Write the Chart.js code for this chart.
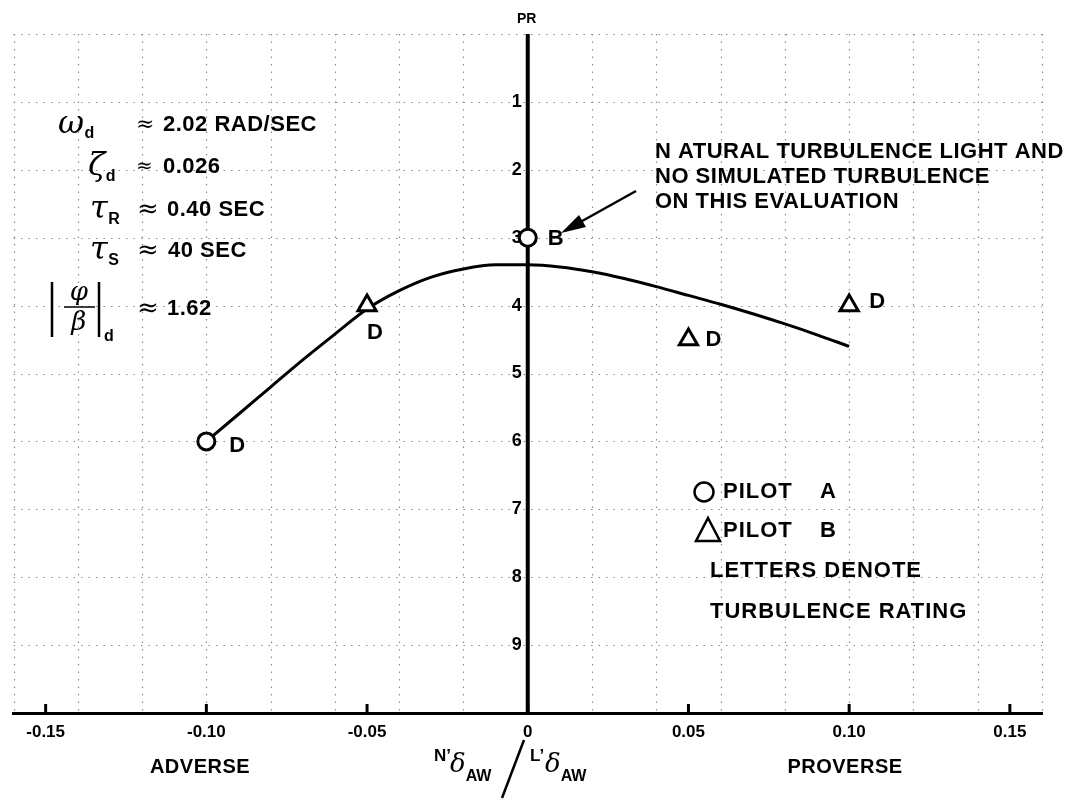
<!DOCTYPE html>
<html>
<head>
<meta charset="utf-8">
<script src="https://cdn.jsdelivr.net/npm/chart.js@4.4.0/dist/chart.umd.min.js"></script>
<style>
  body { margin: 0; background: #fff; }
  canvas { display: block; }
</style>
</head>
<body>
<canvas id="plot" width="1081" height="800"></canvas>
<script>
// faired curve through the ratings
const curveX  = [-0.10, -0.09, -0.08, -0.07, -0.06, -0.05, -0.04, -0.03, -0.02, -0.01, 0.00, 0.01, 0.02, 0.03, 0.04, 0.05, 0.06, 0.07, 0.08, 0.09, 0.10];
const curvePR = [6.00, 5.60, 5.20, 4.80, 4.42, 4.05, 3.78, 3.58, 3.46, 3.40, 3.40, 3.43, 3.50, 3.60, 3.72, 3.85, 3.98, 4.12, 4.27, 4.43, 4.60];

// pilot A (circles)
const pilotAX = [-0.10, 0.00];
const pilotAPR = [6, 3];
const pilotALetters = ['D', 'B'];

// pilot B (triangles)
const pilotBX = [-0.05, 0.05, 0.10];
const pilotBPR = [4, 4.5, 4];
const pilotBLetters = ['D', 'D', 'D'];

const xTicks = [-0.15, -0.10, -0.05, 0, 0.05, 0.10, 0.15];
const xTickLabels = ['-0.15', '-0.10', '-0.05', '0', '0.05', '0.10', '0.15'];
const prTicks = [1, 2, 3, 4, 5, 6, 7, 8, 9];
const gridX = [-0.16, -0.14, -0.12, -0.10, -0.08, -0.06, -0.04, -0.02, 0.02, 0.04, 0.06, 0.08, 0.10, 0.12, 0.14, 0.16];
const gridPR = [0, 1, 2, 3, 4, 5, 6, 7, 8, 9];

// where the rating letters sit relative to their symbol
const letterOffA = [[30, 5], [27, 1]];
const letterOffB = [[7, 27], [24, 0], [27, -4]];

const SANS = '"Liberation Sans", Arial, sans-serif';
const SERIF = '"DejaVu Serif", "Liberation Serif", serif';

function toPts(xs, ys) {
  return xs.map((x, i) => ({x: x, y: ys[i]}));
}

// draws a row of text pieces with their own fonts and vertical shifts
function runs(ctx, x, y, parts) {
  ctx.textBaseline = 'middle';
  ctx.textAlign = 'left';
  parts.forEach(p => {
    ctx.font = p.f;
    let px = p.x !== undefined ? p.x : x;
    ctx.fillText(p.t, px, y + (p.dy || 0));
    x = px + ctx.measureText(p.t).width + (p.gap || 0);
  });
}

const decor = {
  id: 'decor',
  beforeDatasetsDraw(chart) {
    const ctx = chart.ctx;
    const xs = chart.scales.x, ys = chart.scales.y;
    const top = ys.getPixelForValue(0), bot = ys.getPixelForValue(10);
    const left = xs.getPixelForValue(-0.16), right = xs.getPixelForValue(0.16);
    ctx.save();
    // dotted grid
    ctx.strokeStyle = '#8c8c8c';
    ctx.lineWidth = 1.2;
    ctx.setLineDash([1.5, 6]);
    gridX.forEach(v => {
      const px = Math.round(xs.getPixelForValue(v)) + 0.5;
      ctx.beginPath(); ctx.moveTo(px, top); ctx.lineTo(px, bot); ctx.stroke();
    });
    gridPR.forEach(v => {
      const py = Math.round(ys.getPixelForValue(v)) + 0.5;
      ctx.beginPath(); ctx.moveTo(left, py); ctx.lineTo(right, py); ctx.stroke();
    });
    ctx.setLineDash([]);
    // PR axis at zero
    const x0 = xs.getPixelForValue(0);
    ctx.strokeStyle = '#000';
    ctx.lineWidth = 4;
    ctx.beginPath(); ctx.moveTo(x0, top); ctx.lineTo(x0, bot); ctx.stroke();
    // small tick marks on the bottom axis
    ctx.lineWidth = 3;
    xTicks.forEach(v => {
      const px = xs.getPixelForValue(v);
      ctx.beginPath(); ctx.moveTo(px, bot); ctx.lineTo(px, bot - 9); ctx.stroke();
    });
    // PR tick labels
    ctx.fillStyle = '#000';
    ctx.font = 'bold 18px ' + SANS;
    ctx.textAlign = 'right';
    ctx.textBaseline = 'middle';
    prTicks.forEach(v => {
      ctx.fillText(String(v), x0 - 6, ys.getPixelForValue(v));
    });
    ctx.font = 'bold 14px ' + SANS;
    ctx.textAlign = 'center';
    ctx.fillText('PR', x0 - 1, top - 15);
    ctx.restore();
  },
  afterDatasetsDraw(chart) {
    const ctx = chart.ctx;
    ctx.save();
    ctx.fillStyle = '#000';
    ctx.font = 'bold 22px ' + SANS;
    ctx.textAlign = 'left';
    ctx.textBaseline = 'middle';
    [[0, pilotALetters, letterOffA], [1, pilotBLetters, letterOffB]].forEach(([di, letters, offs]) => {
      chart.getDatasetMeta(di).data.forEach((el, i) => {
        ctx.fillText(letters[i], el.x + offs[i][0] - 7, el.y + offs[i][1]);
      });
    });

    // parameter block
    ctx.letterSpacing = '0.5px';
    const big = 'bold 22px ' + SANS;
    const sub = 'bold 16px ' + SANS;
    const greek = 'italic 32px ' + SERIF;
    runs(ctx, 58, 125, [
      {t: '\u03C9', f: greek},
      {t: 'd', f: sub, dy: 9},
      {t: '\u2248', f: '22px ' + SERIF, x: 136},
      {t: '2.02 RAD/SEC', f: big, x: 163}
    ]);
    runs(ctx, 88, 167, [
      {t: '\u03B6', f: greek},
      {t: 'd', f: sub, dy: 10},
      {t: '\u2248', f: '20px ' + SERIF, x: 136},
      {t: '0.026', f: big, x: 163}
    ]);
    runs(ctx, 90, 210, [
      {t: '\u03C4', f: greek},
      {t: 'R', f: sub, dy: 10},
      {t: '\u2248', f: '26px ' + SERIF, x: 137},
      {t: '0.40 SEC', f: big, x: 167}
    ]);
    runs(ctx, 90, 251, [
      {t: '\u03C4', f: greek},
      {t: 'S', f: sub, dy: 10},
      {t: '\u2248', f: '26px ' + SERIF, x: 137},
      {t: '40 SEC', f: big, x: 168}
    ]);
    // |phi / beta|_d
    ctx.strokeStyle = '#000';
    ctx.lineWidth = 2.5;
    ctx.beginPath();
    ctx.moveTo(52, 282); ctx.lineTo(52, 337);
    ctx.moveTo(99, 282); ctx.lineTo(99, 337);
    ctx.stroke();
    ctx.lineWidth = 1.5;
    ctx.beginPath(); ctx.moveTo(64, 307); ctx.lineTo(95, 307); ctx.stroke();
    ctx.textAlign = 'center';
    ctx.font = 'italic 26px ' + SERIF;
    ctx.fillText('\u03C6', 79, 293);
    ctx.fillText('\u03B2', 79, 323);
    runs(ctx, 104, 337, [{t: 'd', f: sub}]);
    runs(ctx, 137, 309, [
      {t: '\u2248', f: '26px ' + SERIF},
      {t: '1.62', f: big, x: 167}
    ]);

    // note about the natural turbulence
    ctx.font = 'bold 22px ' + SANS;
    ctx.textAlign = 'left';
    ['N ATURAL TURBULENCE LIGHT AND', 'NO SIMULATED TURBULENCE', 'ON THIS EVALUATION'].forEach((s, i) => {
      ctx.fillText(s, 655, 152 + i * 25);
    });
    ctx.lineWidth = 2.5;
    ctx.beginPath(); ctx.moveTo(636, 191); ctx.lineTo(575, 225); ctx.stroke();
    ctx.beginPath();
    ctx.moveTo(561, 233); ctx.lineTo(579, 215); ctx.lineTo(586, 227); ctx.closePath();
    ctx.fill();

    // key
    ctx.lineWidth = 2.5;
    ctx.beginPath(); ctx.arc(704, 492, 9.5, 0, Math.PI * 2); ctx.stroke();
    ctx.beginPath(); ctx.moveTo(708, 518); ctx.lineTo(720, 541); ctx.lineTo(696, 541); ctx.closePath(); ctx.stroke();
    ctx.letterSpacing = '1px';
    ctx.font = 'bold 22px ' + SANS;
    ctx.fillText('PILOT', 723, 492);
    ctx.fillText('A', 820, 492);
    ctx.fillText('PILOT', 723, 531);
    ctx.fillText('B', 820, 531);
    ctx.fillText('LETTERS DENOTE', 710, 571);
    ctx.fillText('TURBULENCE RATING', 710, 612);

    // axis captions under the scale
    ctx.letterSpacing = '0.5px';
    ctx.textAlign = 'center';
    ctx.font = 'bold 20px ' + SANS;
    ctx.fillText('ADVERSE', 200, 767);
    ctx.fillText('PROVERSE', 845, 767);
    ctx.letterSpacing = '0px';
    runs(ctx, 434, 756, [
      {t: 'N\u2019', f: 'bold 17px ' + SANS},
      {t: '\u03B4', f: 'italic 26px ' + SERIF, dy: 9, x: 450},
      {t: 'AW', f: 'bold 16px ' + SANS, dy: 21}
    ]);
    ctx.lineWidth = 2.5;
    ctx.beginPath(); ctx.moveTo(524, 740); ctx.lineTo(502, 798); ctx.stroke();
    runs(ctx, 530, 756, [
      {t: 'L\u2019', f: 'bold 17px ' + SANS},
      {t: '\u03B4', f: 'italic 26px ' + SERIF, dy: 9, x: 545},
      {t: 'AW', f: 'bold 16px ' + SANS, dy: 21}
    ]);
    ctx.restore();
  }
};

const data = {
  datasets: [
    {
      label: 'Pilot A',
      data: toPts(pilotAX, pilotAPR),
      showLine: false,
      pointStyle: 'circle',
      pointRadius: 8.5,
      pointBorderWidth: 3,
      pointBackgroundColor: '#fff',
      pointBorderColor: '#000',
      order: 1
    },
    {
      label: 'Pilot B',
      data: toPts(pilotBX, pilotBPR),
      showLine: false,
      pointStyle: 'triangle',
      pointRadius: 10.5,
      pointBorderWidth: 3,
      pointBackgroundColor: '#fff',
      pointBorderColor: '#000',
      order: 1
    },
    {
      label: 'Fairing',
      data: toPts(curveX, curvePR),
      showLine: true,
      borderColor: '#000',
      borderWidth: 3,
      pointRadius: 0,
      cubicInterpolationMode: 'monotone',
      order: 2
    }
  ]
};

const config = {
  type: 'scatter',
  data: data,
  options: {
    responsive: false,
    animation: false,
    devicePixelRatio: 1,
    layout: { padding: { left: 11, right: 39, top: 34, bottom: 51 } },
    plugins: { legend: { display: false }, tooltip: { enabled: false } },
    scales: {
      x: {
        type: 'linear',
        min: -0.16,
        max: 0.16,
        afterBuildTicks: (scale) => { scale.ticks = xTicks.map(v => ({value: v})); },
        afterFit: (scale) => { scale.height = 36; },
        grid: { display: false, drawTicks: false },
        border: { display: true, color: '#000', width: 3 },
        ticks: {
          autoSkip: false,
          maxRotation: 0,
          padding: 9,
          color: '#000',
          font: { family: SANS, size: 17, weight: 'bold' },
          callback: (v) => {
            const i = xTicks.findIndex(t => Math.abs(t - v) < 1e-9);
            return i >= 0 ? xTickLabels[i] : '';
          }
        }
      },
      y: {
        type: 'linear',
        display: false,
        reverse: true,
        min: 0,
        max: 10
      }
    }
  },
  plugins: [decor]
};

let ctx = document.getElementById('plot').getContext('2d');
let chart = new Chart(ctx, config);
</script>
</body>
</html>
